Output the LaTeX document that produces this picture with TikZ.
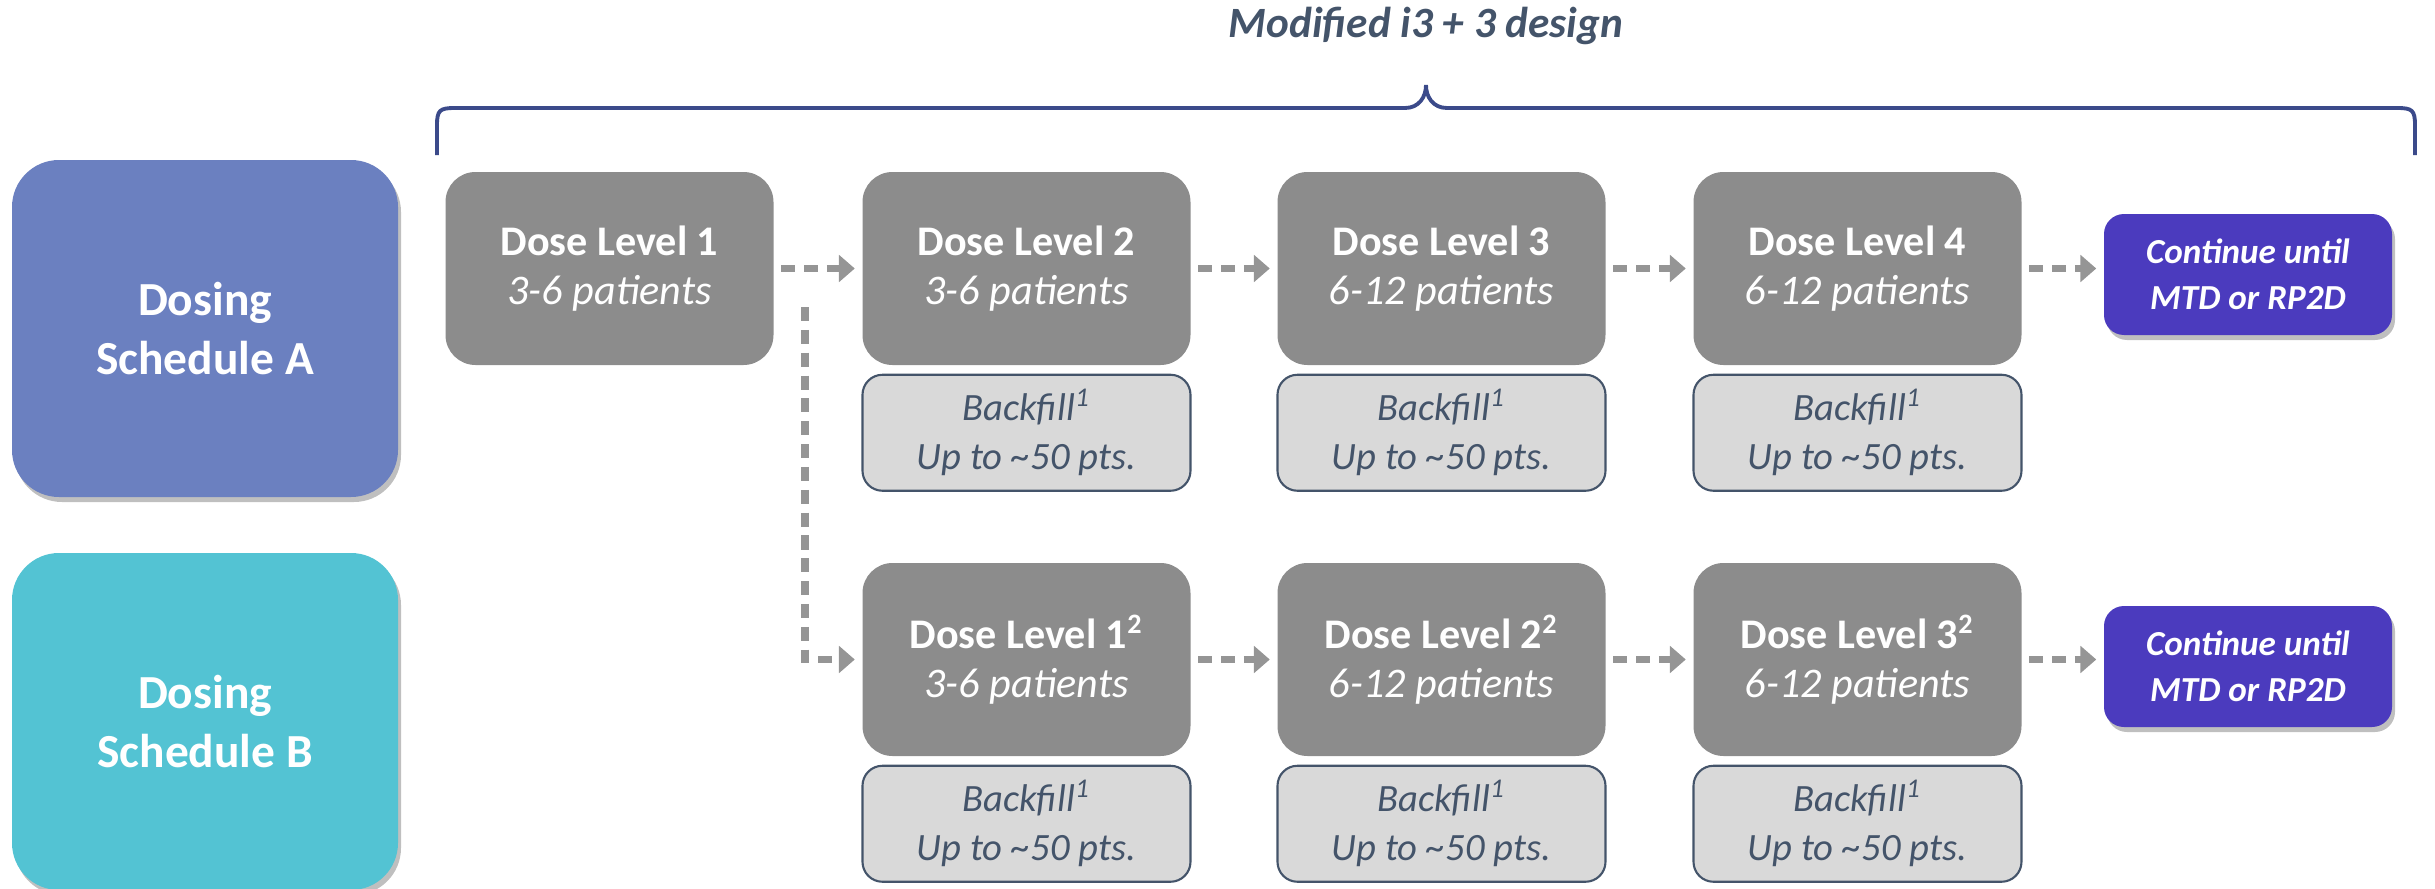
\documentclass[tikz,border=0pt]{standalone}
\usepackage{fontspec}
\setmainfont{Carlito}
\usetikzlibrary{positioning, arrows.meta, shadows}

\definecolor{cSchedA}{HTML}{6B80C0}
\definecolor{cSchedB}{HTML}{53C3D3}
\definecolor{cDose}{HTML}{8C8C8C}
\definecolor{cFill}{HTML}{D9D9D9}
\definecolor{cSlate}{HTML}{44546A}
\definecolor{cCont}{HTML}{4B3BBE}
\definecolor{cBrace}{HTML}{3B4A8A}
\definecolor{cArrow}{HTML}{959595}

\tikzset{
  softshadow/.style={drop shadow={shadow xshift=0.03cm, shadow yshift=-0.05cm, opacity=0.25, fill=black}},
  schedbox/.style={rounded corners=0.47cm, minimum width=3.86cm, minimum height=3.37cm,
    text=white, align=center, font=\fontsize{13.5}{17}\selectfont\bfseries, softshadow},
  dosebox/.style={fill=cDose, rounded corners=0.3cm, minimum width=3.28cm, minimum height=1.93cm,
    text=white, align=center, font=\fontsize{12}{14}\selectfont},
  fillbox/.style={fill=cFill, draw=cSlate, line width=0.6pt, rounded corners=0.2cm,
    minimum width=3.28cm, minimum height=1.16cm, text=cSlate, align=center,
    font=\fontsize{11}{14}\selectfont\itshape},
  contbox/.style={fill=cCont, rounded corners=0.2cm, minimum width=2.88cm, minimum height=1.21cm,
    text=white, align=center, font=\fontsize{10}{13}\selectfont\bfseries\itshape, softshadow},
  flow/.style={draw=cArrow, line width=2pt, dash pattern=on 4pt off 2.5pt,
    shorten <=2pt, shorten >=2pt, -{Triangle[length=4.5pt, width=7.5pt]}}
}

\begin{document}
\begin{tikzpicture}
    \useasboundingbox (0,0) rectangle (24.35,-8.89);

    % schedules
    \node[schedbox, fill=cSchedA] (schedA) at (2.05,-3.285) {Dosing\\Schedule A};
    \node[schedbox, fill=cSchedB] (schedB) at (2.05,-7.215) {Dosing\\Schedule B};

    % schedule A row
    \node[dosebox] (a1) at (6.095,-2.685) {\textbf{Dose Level 1}\\\textit{3-6 patients}};
    \node[dosebox] (a2) at (10.265,-2.685) {\textbf{Dose Level 2}\\\textit{3-6 patients}};
    \node[dosebox] (a3) at (14.415,-2.685) {\textbf{Dose Level 3}\\\textit{6-12 patients}};
    \node[dosebox] (a4) at (18.575,-2.685) {\textbf{Dose Level 4}\\\textit{6-12 patients}};
    \node[contbox] (contA) at (22.48,-2.745) {Continue until\\MTD or RP2D};

    % schedule B row
    \node[dosebox] (b1) at (10.265,-6.595) {\textbf{Dose Level 1\textsuperscript{2}}\\\textit{3-6 patients}};
    \node[dosebox] (b2) at (14.415,-6.595) {\textbf{Dose Level 2\textsuperscript{2}}\\\textit{6-12 patients}};
    \node[dosebox] (b3) at (18.575,-6.595) {\textbf{Dose Level 3\textsuperscript{2}}\\\textit{6-12 patients}};
    \node[contbox] (contB) at (22.48,-6.665) {Continue until\\MTD or RP2D};

    % backfill boxes
    \foreach \n in {a2,a3,a4,b1,b2,b3}
    {
        \node[fillbox, below=0.08cm of \n] (f\n) {Backfill\textsuperscript{1}\\Up to \textasciitilde50 pts.};
    };

    % arrows
    \foreach \u/\v in {a1/a2, a2/a3, a3/a4, a4/contA, b1/b2, b2/b3, b3/contB}
    {
        \draw[flow] (\u.east) -- (\u.east -| \v.west);
    };
    \coordinate (cSplit) at (8.05,-3.07);
    \draw[flow, shorten <=0pt] (cSplit) |- (b1.west);

    % brace
    \coordinate (cBraceL) at (4.37,-1.55);
    \coordinate (cBraceR) at (24.15,-1.55);
    \coordinate (cBraceTip) at (14.26,-0.85);
    \draw[cBrace, line width=1.1pt] (cBraceL) -- ++(0,0.3)
        .. controls +(0,0.15) and +(-0.15,0) .. ++(0.18,0.17) -- ++(9.5,0)
        .. controls +(0.14,0) and +(0,-0.12) .. (cBraceTip)
        .. controls +(0,-0.12) and +(-0.14,0) .. ++(0.21,-0.23) -- ++(9.5,0)
        .. controls +(0.15,0) and +(0,0.15) .. ++(0.18,-0.17) -- (cBraceR);
    \node[text=cSlate, font=\fontsize{12.3}{15}\selectfont\bfseries\itshape] (title) at (14.26,-0.26) {Modified i3 + 3 design};

\end{tikzpicture}
\end{document}
